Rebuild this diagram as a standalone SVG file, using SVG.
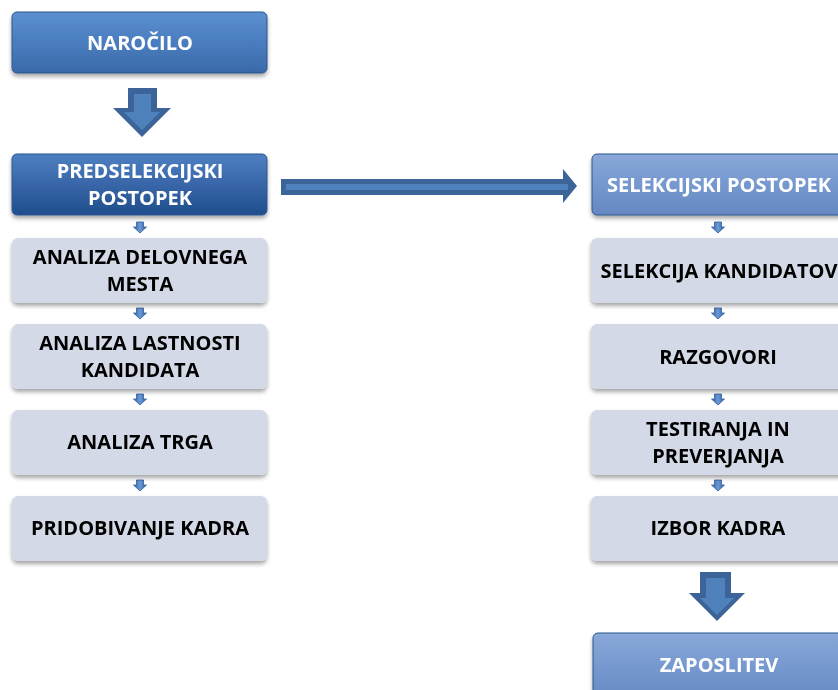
<svg xmlns="http://www.w3.org/2000/svg" width="838" height="690" viewBox="0 0 838 690">
<defs>
<linearGradient id="gDark" x1="0" y1="0" x2="0" y2="1">
<stop offset="0" stop-color="#5b8fd0"/><stop offset="0.5" stop-color="#4a7dbf"/><stop offset="1" stop-color="#3a69a8"/>
</linearGradient>
<linearGradient id="gDarker" x1="0" y1="0" x2="0" y2="1">
<stop offset="0" stop-color="#4d80c2"/><stop offset="0.5" stop-color="#3866a8"/><stop offset="1" stop-color="#1f4d8c"/>
</linearGradient>
<linearGradient id="gSoft" x1="0" y1="0" x2="0" y2="1">
<stop offset="0" stop-color="#8aa8d8"/><stop offset="0.5" stop-color="#7598cf"/><stop offset="1" stop-color="#6688c2"/>
</linearGradient>
<linearGradient id="gSmall" x1="0" y1="0" x2="1" y2="0">
<stop offset="0" stop-color="#2f5e9e"/><stop offset="0.5" stop-color="#6c9ad6"/><stop offset="1" stop-color="#2f5e9e"/>
</linearGradient>
<filter id="sh" x="-10%" y="-20%" width="120%" height="150%">
<feGaussianBlur in="SourceAlpha" stdDeviation="2"/><feOffset dx="0" dy="3"/>
<feComponentTransfer><feFuncA type="linear" slope="0.35"/></feComponentTransfer>
<feMerge><feMergeNode/><feMergeNode in="SourceGraphic"/></feMerge>
</filter>
<path id="sa" d="M-3.5,0 H3.5 V5 H6.5 L0,11 L-6.5,5 H-3.5 Z"/>
</defs>
<style>
.dark{stroke:#2d578f;stroke-width:1}
.light{fill:#d3d9e6}
.tw{font-family:"Open Sans","Liberation Sans",sans-serif;font-weight:bold;font-size:20px;fill:#ffffff;text-anchor:middle}
.tb{font-family:"Open Sans","Liberation Sans",sans-serif;font-weight:bold;font-size:20px;fill:#000000;text-anchor:middle}
.big{fill:#3c6499}
.bigin{fill:#4f81bd}
.small{fill:url(#gSmall);stroke:#2f5e9e;stroke-width:0.8}
</style>
<rect width="838" height="690" fill="#ffffff"/>

<g id="connectors">
<g id="arrow-narocilo-pred">
<path class="big" d="M128,88 H157 V108 H171 L142,137 L113,108 H128 Z"/>
<path class="bigin" d="M134,94 H151 V112 H160 L142,130 L124,112 H134 Z"/>
</g>
<g id="arrow-pred-sel">
<path class="big" d="M281,179 H563 V169 L577,186 L563,203 V195 H281 Z"/>
<rect class="bigin" x="286" y="184" width="282" height="6"/>
</g>
<g id="arrow-izbor-zap">
<path class="big" d="M700,572 H731 V593 H745 L717,621 L689,593 H700 Z"/>
<path class="bigin" d="M706,578 H725 V598 H734 L717,615 L700,598 H706 Z"/>
</g>
<use href="#sa" class="small" x="140" y="222"/>
<use href="#sa" class="small" x="140" y="308"/>
<use href="#sa" class="small" x="140" y="394"/>
<use href="#sa" class="small" x="140" y="480"/>
<use href="#sa" class="small" x="718" y="222"/>
<use href="#sa" class="small" x="718" y="308"/>
<use href="#sa" class="small" x="718" y="394"/>
<use href="#sa" class="small" x="718" y="480"/>
</g>

<g id="narocilo" filter="url(#sh)">
<rect class="dark" x="12" y="12" width="255" height="61" rx="5" fill="url(#gDark)"/>
<text class="tw" x="140" y="50">NAROČILO</text>
</g>
<g id="predselekcijski" filter="url(#sh)">
<rect class="dark" x="12" y="154" width="255" height="61" rx="5" fill="url(#gDarker)"/>
<text class="tw" x="140" y="178">PREDSELEKCIJSKI</text>
<text class="tw" x="140" y="205">POSTOPEK</text>
</g>
<g id="analiza-delovnega" filter="url(#sh)">
<rect class="light" x="12" y="238" width="255" height="65" rx="6"/>
<text class="tb" x="140" y="264">ANALIZA DELOVNEGA</text>
<text class="tb" x="140" y="291">MESTA</text>
</g>
<g id="analiza-lastnosti" filter="url(#sh)">
<rect class="light" x="12" y="324" width="255" height="65" rx="6"/>
<text class="tb" x="140" y="350">ANALIZA LASTNOSTI</text>
<text class="tb" x="140" y="377">KANDIDATA</text>
</g>
<g id="analiza-trga" filter="url(#sh)">
<rect class="light" x="12" y="410" width="255" height="65" rx="6"/>
<text class="tb" x="140" y="449">ANALIZA TRGA</text>
</g>
<g id="pridobivanje" filter="url(#sh)">
<rect class="light" x="12" y="496" width="255" height="65" rx="6"/>
<text class="tb" x="140" y="535">PRIDOBIVANJE KADRA</text>
</g>

<g id="selekcijski" filter="url(#sh)">
<rect class="dark" x="592" y="154" width="256" height="61" rx="5" fill="url(#gSoft)" stroke="#5a7fb8"/>
<text class="tw" x="719" y="192">SELEKCIJSKI POSTOPEK</text>
</g>
<g id="selekcija-kandidatov" filter="url(#sh)">
<rect class="light" x="591" y="238" width="256" height="65" rx="6"/>
<text class="tb" x="719" y="278">SELEKCIJA KANDIDATOV</text>
</g>
<g id="razgovori" filter="url(#sh)">
<rect class="light" x="591" y="324" width="256" height="65" rx="6"/>
<text class="tb" x="718" y="364">RAZGOVORI</text>
</g>
<g id="testiranja" filter="url(#sh)">
<rect class="light" x="591" y="410" width="256" height="65" rx="6"/>
<text class="tb" x="718" y="436">TESTIRANJA IN</text>
<text class="tb" x="718" y="463">PREVERJANJA</text>
</g>
<g id="izbor-kadra" filter="url(#sh)">
<rect class="light" x="591" y="496" width="256" height="65" rx="6"/>
<text class="tb" x="718" y="535">IZBOR KADRA</text>
</g>
<g id="zaposlitev" filter="url(#sh)">
<rect class="dark" x="593" y="633" width="256" height="70" rx="5" fill="url(#gSoft)" stroke="#5a7fb8"/>
<text class="tw" x="719" y="672">ZAPOSLITEV</text>
</g>
</svg>
